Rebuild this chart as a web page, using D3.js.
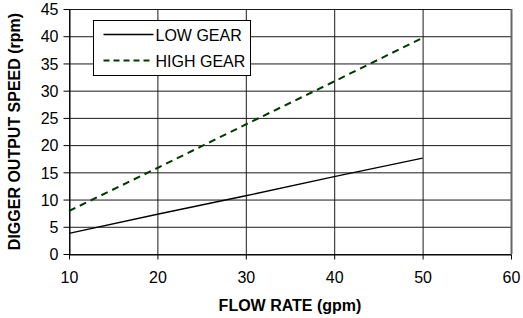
<!DOCTYPE html>
<html>
<head>
<meta charset="utf-8">
<script src="https://cdn.jsdelivr.net/npm/d3@7"></script>
<style>
body { margin: 0; background: #fff; }
svg { display: block; font-family: "Liberation Sans", Arial, sans-serif; }
</style>
</head>
<body>
<svg id="chart" width="523" height="318"></svg>
<script>
'use strict';

var flowRate = [10, 20, 30, 40, 50];
var lowGear = [3.8, 7.3, 10.7, 14.2, 17.6];
var highGear = [7.9, 15.8, 23.8, 31.7, 39.7];
var xTicks = [10, 20, 30, 40, 50, 60];
var yTicks = [0, 5, 10, 15, 20, 25, 30, 35, 40, 45];
var seriesNames = ['LOW GEAR', 'HIGH GEAR'];

var MARGIN = { TOP: 9, RIGHT: 12, BOTTOM: 64, LEFT: 69 };
var W = 523 - MARGIN.LEFT - MARGIN.RIGHT;
var H = 318 - MARGIN.TOP - MARGIN.BOTTOM;

var svg = d3.select('#chart');
var g = svg.append('g')
    .attr('transform', 'translate(' + MARGIN.LEFT + ',' + MARGIN.TOP + ')');

var x = d3.scaleLinear().domain([10, 60]).range([0, W]);
var y = d3.scaleLinear().domain([0, 45]).range([H, 0]);

// gridlines
g.append('g').selectAll('line')
    .data(yTicks)
    .enter().append('line')
    .attr('x1', 0).attr('x2', W)
    .attr('y1', function(d) { return y(d) + 0.5; })
    .attr('y2', function(d) { return y(d) + 0.5; })
    .attr('stroke', '#1a1a1a');

g.append('g').selectAll('line')
    .data(xTicks)
    .enter().append('line')
    .attr('y1', 0).attr('y2', H)
    .attr('x1', function(d) { return x(d) + 0.5; })
    .attr('x2', function(d) { return x(d) + 0.5; })
    .attr('stroke', function(d) { return d === 60 ? '#666' : '#1a1a1a'; })
    .attr('stroke-width', function(d) { return d === 60 ? 2 : 1; });

// axes
var xAxis = g.append('g')
    .attr('transform', 'translate(0,' + (H + 0.5) + ')')
    .call(d3.axisBottom(x).tickValues(xTicks).tickSize(5).tickSizeOuter(0).tickPadding(12));
var yAxis = g.append('g')
    .attr('transform', 'translate(0.5,0)')
    .call(d3.axisLeft(y).tickValues(yTicks).tickSize(6).tickSizeOuter(0).tickPadding(5));

[xAxis, yAxis].forEach(function(a) {
    a.select('.domain').attr('stroke', '#000');
    a.selectAll('.tick line').attr('stroke', '#000');
    a.selectAll('.tick text')
        .attr('fill', '#000')
        .style('font-size', '16px')
        .style('font-family', '"Liberation Sans", Arial, sans-serif');
});
yAxis.selectAll('.tick text').attr('dy', '0.36em');

// lines
var line = d3.line()
    .x(function(d) { return x(d[0]); })
    .y(function(d) { return y(d[1]); });

g.append('path')
    .datum(flowRate.map(function(f, i) { return [f, lowGear[i]]; }))
    .attr('d', line)
    .attr('fill', 'none')
    .attr('stroke', '#000')
    .attr('stroke-width', 1.3);

g.append('path')
    .datum(flowRate.map(function(f, i) { return [f, highGear[i]]; }))
    .attr('d', line)
    .attr('fill', 'none')
    .attr('stroke', '#003a00')
    .attr('stroke-width', 2)
    .attr('stroke-dasharray', '7,5');

// legend
var legend = svg.append('g').attr('transform', 'translate(93.5,20.5)');
legend.append('rect')
    .attr('width', 157).attr('height', 55)
    .attr('fill', '#fff').attr('stroke', '#000');

var styles = [
    { stroke: '#000', width: 1.3, dash: null },
    { stroke: '#003a00', width: 2, dash: '6,4' }
];
seriesNames.forEach(function(name, i) {
    var ly = 14 + i * 26;
    legend.append('line')
        .attr('x1', 10).attr('x2', 60)
        .attr('y1', ly).attr('y2', ly)
        .attr('stroke', styles[i].stroke)
        .attr('stroke-width', styles[i].width)
        .attr('stroke-dasharray', styles[i].dash);
    legend.append('text')
        .attr('x', 62).attr('y', ly + 6)
        .style('font-size', '16px')
        .text(name);
});

// axis titles
svg.append('text')
    .attr('x', MARGIN.LEFT + W / 2)
    .attr('y', 311)
    .attr('text-anchor', 'middle')
    .style('font-size', '16px')
    .style('font-weight', 'bold')
    .text('FLOW RATE (gpm)');

svg.append('text')
    .attr('transform', 'translate(20,' + (MARGIN.TOP + H / 2) + ') rotate(-90)')
    .attr('text-anchor', 'middle')
    .style('font-size', '16px')
    .style('font-weight', 'bold')
    .text('DIGGER OUTPUT SPEED (rpm)');
</script>
</body>
</html>
